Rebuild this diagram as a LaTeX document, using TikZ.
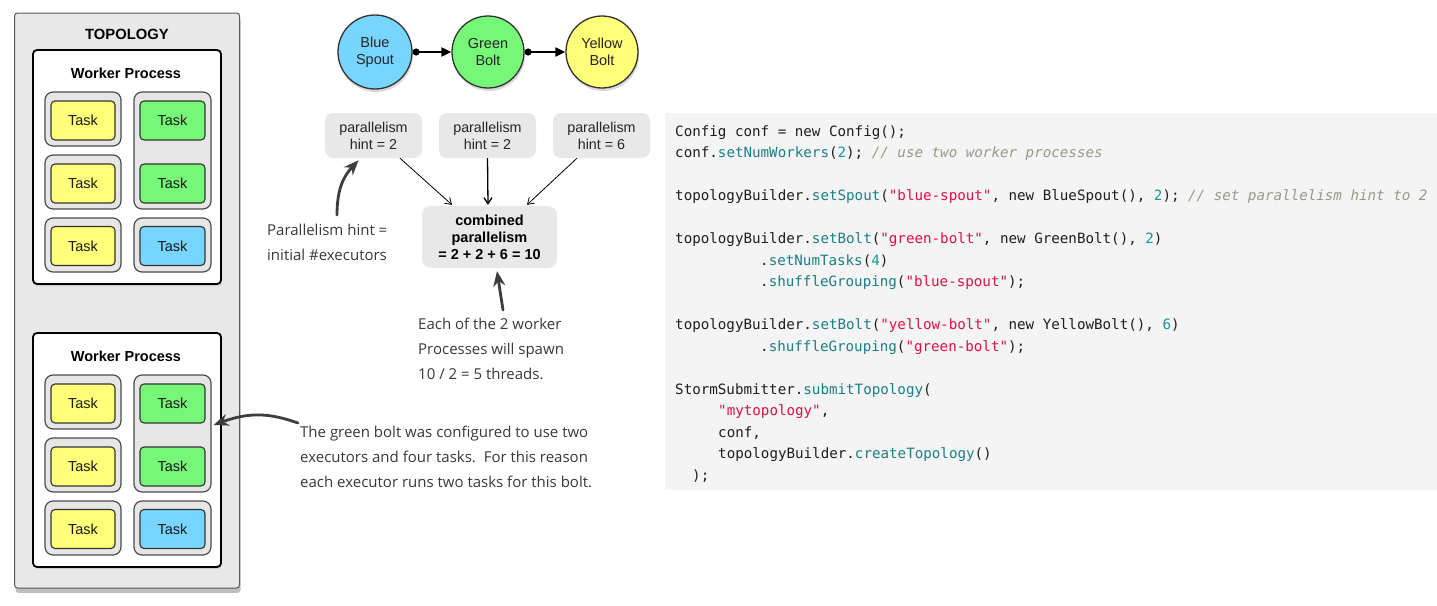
\documentclass[tikz,border=0pt]{standalone}
\usepackage{fontspec}
\setmainfont{Liberation Sans}
\setmonofont{DejaVu Sans Mono}
\newfontfamily\handfont{Open Sans}
\usetikzlibrary{arrows.meta,shadows,calc}
\definecolor{topobg}{HTML}{E8E8E8}
\definecolor{execbg}{HTML}{E6E6E6}
\definecolor{taskyellow}{HTML}{FFFF7A}
\definecolor{taskgreen}{HTML}{77F777}
\definecolor{taskblue}{HTML}{77D5FF}
\definecolor{hintbg}{HTML}{E8E8E8}
\definecolor{codebg}{HTML}{F4F4F4}
\definecolor{codetxt}{HTML}{1E1E1E}
\definecolor{codefn}{HTML}{1A7F86}
\definecolor{codenum}{HTML}{119999}
\definecolor{codestr}{HTML}{DD1144}
\definecolor{codecom}{HTML}{999988}
\definecolor{handgray}{HTML}{3D3D3D}
\newcommand{\cfn}[1]{\textcolor{codefn}{#1}}
\newcommand{\cnu}[1]{\textcolor{codenum}{#1}}
\newcommand{\cst}[1]{\textcolor{codestr}{#1}}
\newcommand{\ccm}[1]{\textcolor{codecom}{\itshape #1}}
\begin{document}
\begin{tikzpicture}[x=1pt,y=-1pt,
  outerbox/.style={draw=black!65, fill=topobg, line width=1pt, rounded corners=3pt,
    minimum width=225pt, minimum height=575pt, inner sep=0pt,
    drop shadow={opacity=0.5, shadow xshift=1pt, shadow yshift=-5pt}},
  wpbox/.style={draw=black, fill=white, line width=1.8pt, rounded corners=4pt,
    minimum width=188pt, minimum height=234pt, inner sep=0pt,
    drop shadow={opacity=0.25, shadow xshift=1pt, shadow yshift=-2pt}},
  execbox/.style={draw=black!70, fill=execbg, line width=1.2pt, rounded corners=8pt,
    inner sep=0pt},
  taskbox/.style={draw=black!80, line width=1.1pt, rounded corners=4pt,
    minimum width=64pt, minimum height=39pt, inner sep=0pt, text=black!90,
    font=\fontsize{14.5}{16}\selectfont},
  boldlabel/.style={font=\bfseries\fontsize{14.5}{16}\selectfont, inner sep=0pt},
  compnode/.style={circle, draw=black!80, line width=1.3pt, minimum size=72pt,
    inner sep=0pt, align=center, text=black!85,
    font=\fontsize{14.5}{17}\selectfont,
    drop shadow={opacity=0.3, shadow xshift=1pt, shadow yshift=-3pt}},
  flow/.style={line width=2pt, {Circle[length=7pt]}-{Triangle[length=10pt,width=9pt]}},
  hintbox/.style={fill=hintbg, rounded corners=8pt, minimum width=97pt,
    minimum height=45pt, inner sep=0pt, align=center, text=black!85,
    font=\fontsize{14.3}{17}\selectfont},
  combbox/.style={fill=hintbg, rounded corners=9pt, minimum width=135pt,
    minimum height=62pt, inner sep=0pt, align=center,
    font=\bfseries\fontsize{14.5}{17}\selectfont},
  thinarrow/.style={line width=0.8pt, -{Straight Barb[length=6pt,width=8pt]}},
  hand/.style={draw=handgray, line width=2.8pt, line cap=round,
    -{Stealth[length=15pt,width=12pt]}},
  handtext/.style={font=\handfont\fontsize{15}{25}\selectfont, text=black!78,
    align=left, inner sep=0pt, anchor=north west},
  codeline/.style={font=\ttfamily\fontsize{14.2}{16}\selectfont, text=codetxt,
    inner sep=0pt, anchor=base west}
]
\useasboundingbox (0,0) rectangle (1437,605);

% ---------------- Topology ----------------
\node[outerbox] (topo) at (127,300.5) {};
\node[font=\bfseries\fontsize{14.8}{16}\selectfont, inner sep=0pt] (topolabel) at (127,34.5) {TOPOLOGY};

\foreach \dy/\w in {0/1,283/2}{
  \node[wpbox] (wp\w) at (127,167+\dy) {};
  \node[boldlabel] (wpl\w) at (126,73+\dy) {Worker Process};
  % executor containers
  \node[execbox, minimum width=76pt, minimum height=54pt] (ex\w-l1) at (83,119+\dy) {};
  \node[execbox, minimum width=76pt, minimum height=54pt] (ex\w-l2) at (83,182+\dy) {};
  \node[execbox, minimum width=76pt, minimum height=54pt] (ex\w-l3) at (83,245+\dy) {};
  \node[execbox, minimum width=77pt, minimum height=117pt] (ex\w-r1) at (172.5,150.5+\dy) {};
  \node[execbox, minimum width=77pt, minimum height=54pt] (ex\w-r2) at (172.5,245+\dy) {};
  % tasks
  \node[taskbox, fill=taskyellow] (t\w-y1) at (83,120.5+\dy) {Task};
  \node[taskbox, fill=taskyellow] (t\w-y2) at (83,183.5+\dy) {Task};
  \node[taskbox, fill=taskyellow] (t\w-y3) at (83,246+\dy) {Task};
  \node[taskbox, fill=taskgreen, minimum width=65pt] (t\w-g1) at (172.5,120.5+\dy) {Task};
  \node[taskbox, fill=taskgreen, minimum width=65pt] (t\w-g2) at (172.5,183.5+\dy) {Task};
  \node[taskbox, fill=taskblue, minimum width=65pt] (t\w-b1) at (172.5,246+\dy) {Task};
}

% ---------------- Stream graph ----------------
\node[compnode, fill=taskblue, minimum size=74pt] (blue) at (375,52) {Blue\\Spout};
\node[compnode, fill=taskgreen] (green) at (488,52) {Green\\Bolt};
\node[compnode, fill=taskyellow] (yellow) at (602,52) {Yellow\\Bolt};
\draw[flow] (blue) -- (green);
\draw[flow] (green) -- (yellow);

\node[hintbox] (h1) at (373.5,135.5) {parallelism\\hint = 2};
\node[hintbox] (h2) at (487.5,135.5) {parallelism\\hint = 2};
\node[hintbox] (h3) at (601.5,135.5) {parallelism\\hint = 6};
\node[combbox] (comb) at (489.5,237) {combined\\parallelism\\= 2 + 2 + 6 = 10};

\draw[thinarrow] ($(h1.south)+(26.5,0)$) -- ($(comb.north)+(-37.5,-1)$);
\draw[thinarrow, line width=1.3pt] (h2.south) -- ($(comb.north)+(-1.5,-1)$);
\draw[thinarrow] ($(h3.south)+(-24.5,0)$) -- ($(comb.north)+(37.5,-1)$);

% ---------------- Notes ----------------
\node[handtext] (note1) at (267,224) {Parallelism hint =\\initial \#executors};
\node[handtext] (note2) at (418,318) {Each of the 2 worker\\Processes will spawn\\10 / 2 = 5 threads.};
\node[handtext] (note3) at (300,426) {The green bolt was configured to use two\\executors and four tasks.\ \ For this reason\\each executor runs two tasks for this bolt.};

\draw[hand] ($(note1.north west)+(70,-9)$) .. controls (337,188) and (344,176) .. ($(h1.south)+(-15,2)$);
\draw[hand] ($(note2.north west)+(85,-8)$) -- ($(comb.south)+(7.5,3)$);
\draw[hand] ($(note3.north west)+(-2,-3)$) .. controls (272,414) and (252,411) .. ($(ex2-r1.east)+(2,-8.5)$);

% ---------------- Code ----------------
\node[fill=codebg, minimum width=772pt, minimum height=377pt, inner sep=0pt] (code) at (1051,301.5) {};
\node[codeline] (c1) at (675,136) {Config conf = new Config();};
\node[codeline] (c2) at (675,157.5) {conf.\cfn{setNumWorkers}(\cnu{2}); \ccm{// use two worker processes}};
\node[codeline] (c3) at (675,200.5) {topologyBuilder.\cfn{setSpout}(\cst{"blue-spout"}, new BlueSpout(), \cnu{2}); \ccm{// set parallelism hint to 2}};
\node[codeline] (c4) at (675,243.5) {topologyBuilder.\cfn{setBolt}(\cst{"green-bolt"}, new GreenBolt(), \cnu{2})};
\node[codeline] (c5) at (760,265) {.\cfn{setNumTasks}(\cnu{4})};
\node[codeline] (c6) at (760,286.5) {.\cfn{shuffleGrouping}(\cst{"blue-spout"});};
\node[codeline] (c7) at (675,329.5) {topologyBuilder.\cfn{setBolt}(\cst{"yellow-bolt"}, new YellowBolt(), \cnu{6})};
\node[codeline] (c8) at (760,351) {.\cfn{shuffleGrouping}(\cst{"green-bolt"});};
\node[codeline] (c9) at (675,394) {StormSubmitter.\cfn{submitTopology}(};
\node[codeline] (c10) at (718,415.5) {\cst{"mytopology"},};
\node[codeline] (c11) at (718,437) {conf,};
\node[codeline] (c12) at (718,458.5) {topologyBuilder.\cfn{createTopology}()};
\node[codeline] (c13) at (692,480) {);};
\end{tikzpicture}
\end{document}
